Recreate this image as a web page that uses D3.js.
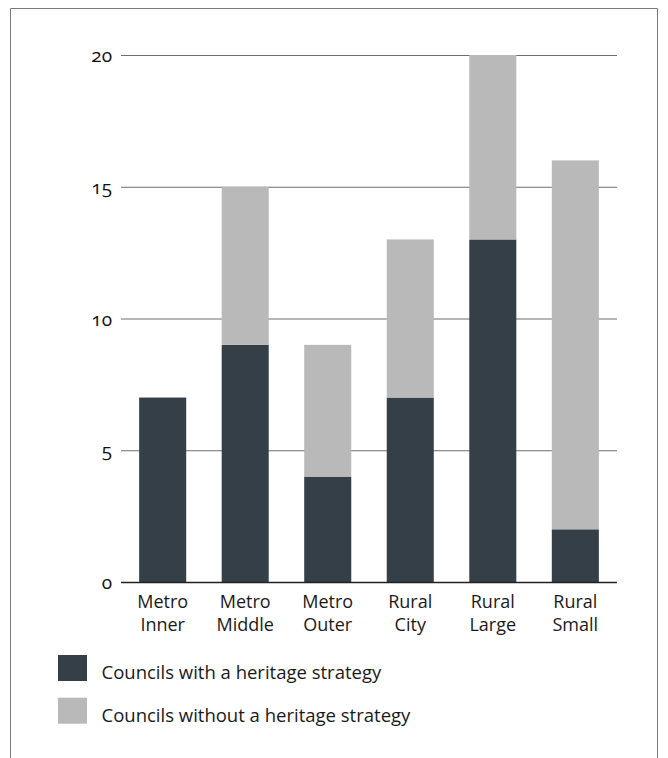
<!DOCTYPE html>
<html><head><meta charset="utf-8">
<script src="https://cdn.jsdelivr.net/npm/d3@7"></script>
<style>body{margin:0;background:#fff}svg{display:block}.yt{font-variant-numeric:oldstyle-nums;font-feature-settings:"onum" 1}</style>
</head><body>
<svg id="c" width="668" height="758"></svg>
<script>
const categories = [["Metro","Inner"],["Metro","Middle"],["Metro","Outer"],["Rural","City"],["Rural","Large"],["Rural","Small"]];
const withStrategy = [7, 9, 4, 7, 13, 2];
const withoutStrategy = [0, 6, 5, 6, 7, 14];
const yTicks = [0, 5, 10, 15, 20];
const seriesNames = ["Councils with a heritage strategy", "Councils without a heritage strategy"];
const colors = ["#343f48", "#b9b9b9"];

const svg = d3.select("#c");
// frame
svg.append("path").attr("d","M10.5,758 V8.5 H657.5 V758").attr("fill","none").attr("stroke","#7a7a7a").attr("stroke-width",1);

const keys = categories.map(c => c.join(" "));
const x = d3.scaleBand().domain(keys).range([121,617]).paddingInner(0.43).paddingOuter(0.22);
const y = d3.scaleLinear().domain([0,20]).range([582,55]);

// gridlines
svg.append("g").selectAll("line").data(yTicks.filter(d=>d>0)).join("line")
  .attr("x1",121).attr("x2",617).attr("y1",d=>y(d)+0.5).attr("y2",d=>y(d)+0.5)
  .attr("stroke","#6e6e6e").attr("stroke-width",1.2);

const rows = keys.map((k,i)=>({key:k, a:withStrategy[i], b:withoutStrategy[i]}));
const stack = d3.stack().keys(["a","b"])(rows);
svg.append("g").selectAll("g").data(stack).join("g").attr("fill",(d,i)=>colors[i])
  .selectAll("rect").data(d=>d).join("rect")
  .attr("x",d=>x(d.data.key)).attr("width",x.bandwidth())
  .attr("y",d=>y(d[1])).attr("height",d=>y(d[0])-y(d[1]));

// baseline
svg.append("line").attr("x1",121).attr("x2",617).attr("y1",y(0)+0.5).attr("y2",y(0)+0.5).attr("stroke","#222").attr("stroke-width",1.3);

// y tick labels
svg.append("g").selectAll("text").data(yTicks).join("text")
  .attr("class","yt")
  .attr("x",112).attr("y",d=>y(d)+7).attr("text-anchor","end")
  .attr("font-family","'Open Sans', sans-serif").attr("font-size",19).attr("fill","#111")
  .text(d=>d);

// x labels
const xl = svg.append("g").selectAll("text").data(categories).join("text")
  .attr("x",(d,i)=>x(keys[i])+x.bandwidth()/2).attr("y",608)
  .attr("text-anchor","middle").attr("font-family","'Open Sans', sans-serif").attr("font-size",18).attr("fill","#1a1a1a");
xl.selectAll("tspan").data(d=>d).join("tspan")
  .attr("x",function(){return this.parentNode.getAttribute("x");})
  .attr("dy",(d,i)=>i?23:0).text(d=>d);

// legend
const lg = svg.append("g").selectAll("g").data(seriesNames).join("g")
  .attr("transform",(d,i)=>`translate(58,${655+i*42.7})`);
lg.append("rect").attr("width",29).attr("height",26).attr("fill",(d,i)=>colors[i]);
lg.append("text").attr("x",43.5).attr("y",24).attr("font-family","'Open Sans', sans-serif").attr("font-size",18.5).attr("fill","#1a1a1a").text(d=>d);
</script>
</body></html>
